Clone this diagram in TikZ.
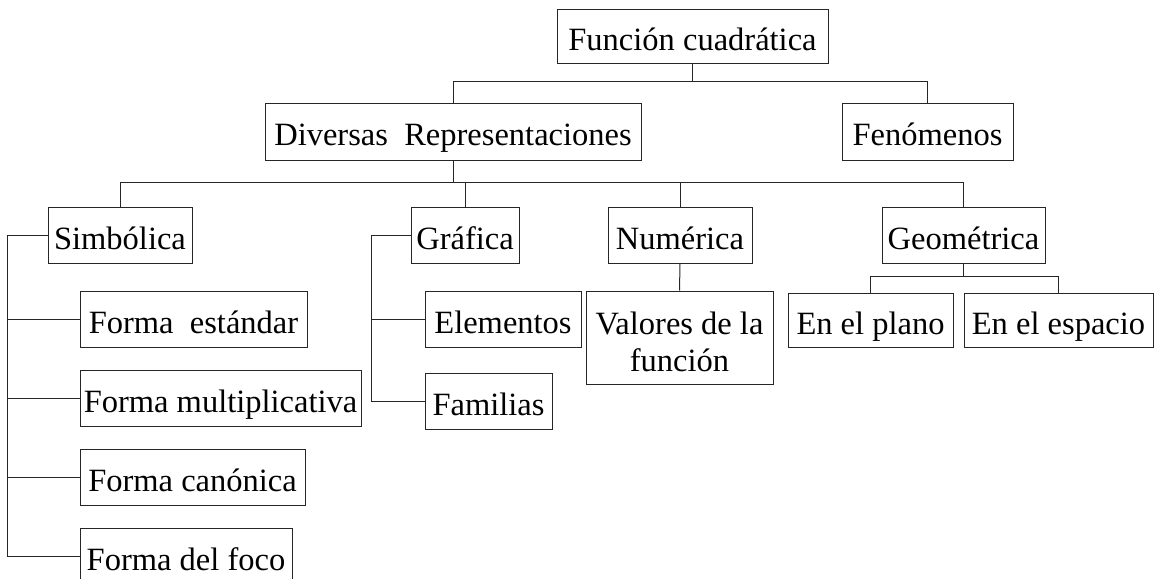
\documentclass[tikz,border=0pt]{standalone}
\usepackage{fontspec}
\setmainfont{Liberation Serif}
\begin{document}
\begin{tikzpicture}[x=1pt,y=-1pt,
  box/.style={draw=black!85, line width=1pt, rectangle, inner sep=0pt,
    font=\fontsize{32.5}{37}\selectfont, text height=28pt, text depth=0pt},
  conn/.style={draw=black!85, line width=1pt}]
\useasboundingbox (0,0) rectangle (1158,578);
% top level
\node[box, minimum width=271pt, minimum height=53pt] (fc) at (692.5,36.5) {Función cuadrática};
\node[box, minimum width=376pt, minimum height=57pt] (dr) at (453,131.5) {Diversas\ \ Representaciones};
\node[box, minimum width=171pt, minimum height=57pt] (fen) at (927.5,131.5) {Fenómenos};
% second level
\node[box, minimum width=144pt, minimum height=56pt] (sim) at (120,235) {Simbólica};
\node[box, minimum width=108pt, minimum height=56pt] (gra) at (465,235) {Gráfica};
\node[box, minimum width=144pt, minimum height=56pt] (num) at (680,235) {Numérica};
\node[box, minimum width=163pt, minimum height=56pt] (geo) at (963.5,235) {Geométrica};
% simbolica children
\node[box, minimum width=227pt, minimum height=56pt] (fe) at (193.5,319) {Forma\ \ estándar};
\node[box, minimum width=281pt, minimum height=56pt] (fm) at (220.5,398) {Forma multiplicativa};
\node[box, minimum width=225pt, minimum height=56pt] (fcan) at (192.5,477) {Forma canónica};
\node[box, minimum width=212pt, minimum height=56pt] (ff) at (186,556) {Forma del foco};
% grafica children
\node[box, minimum width=156pt, minimum height=56pt] (ele) at (503,319) {Elementos};
\node[box, minimum width=127pt, minimum height=56pt] (fam) at (488.5,401) {Familias};
% numerica child
\node[box, minimum width=187pt, minimum height=93pt, align=center, text height=, text depth=] (val) at (679.5,337.5) {\rule{0pt}{31pt}Valores de la\\función};
% geometrica children
\node[box, minimum width=165pt, minimum height=54pt] (pla) at (870.5,320) {En el plano};
\node[box, minimum width=189pt, minimum height=54pt] (esp) at (1058.5,320) {En el espacio};
% connectors
\draw[conn] (fc.south) -- ++(0,18) coordinate (b1);
\draw[conn] (dr.north) |- (b1) -| (fen.north);
\draw[conn] (dr.south) -- ++(0,22) coordinate (b2);
\draw[conn] (sim.north) |- (b2) -| (geo.north);
\draw[conn] (gra.north) -- (gra.north |- b2);
\draw[conn] (num.north) -- (num.north |- b2);
\draw[conn] (sim.west) -- ++(-40,0) coordinate (s0) -- (s0 |- ff.west) -- (ff.west);
\draw[conn] (s0 |- fe.west) -- (fe.west);
\draw[conn] (s0 |- fm.west) -- (fm.west);
\draw[conn] (s0 |- fcan.west) -- (fcan.west);
\draw[conn] (gra.west) -- ++(-39,0) coordinate (g0) -- (g0 |- fam.west) -- (fam.west);
\draw[conn] (g0 |- ele.west) -- (ele.west);
\draw[conn] (num.south) -- (val.north);
\draw[conn] (geo.south) -- ++(0,13) coordinate (b3);
\draw[conn] (pla.north) |- (b3) -| (esp.north);
\end{tikzpicture}
\end{document}
